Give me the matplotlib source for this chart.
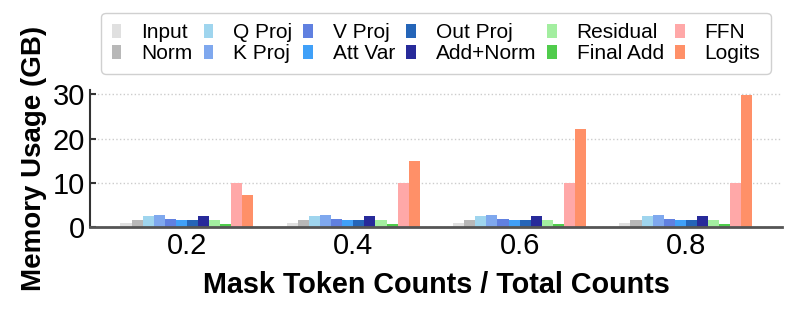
import matplotlib
matplotlib.use("Agg")
import matplotlib.pyplot as plt
import numpy as np

plt.rcParams['font.family'] = ['Liberation Sans', 'DejaVu Sans']

ratios = ["0.2", "0.4", "0.6", "0.8"]
series_names = ["Input", "Norm", "Q Proj", "K Proj", "V Proj", "Att Var",
                "Out Proj", "Add+Norm", "Residual", "Final Add", "FFN", "Logits"]
input_vals = [0.75, 0.75, 0.75, 0.75]
norm_vals = [1.5, 1.5, 1.5, 1.5]
qproj_vals = [2.45, 2.45, 2.45, 2.45]
kproj_vals = [2.6, 2.6, 2.6, 2.6]
vproj_vals = [1.8, 1.8, 1.8, 1.8]
attvar_vals = [1.5, 1.5, 1.5, 1.5]
outproj_vals = [1.5, 1.5, 1.5, 1.5]
addnorm_vals = [2.45, 2.45, 2.45, 2.45]
residual_vals = [1.5, 1.5, 1.5, 1.5]
finaladd_vals = [0.7, 0.7, 0.7, 0.7]
ffn_vals = [10.0, 10.0, 10.0, 10.0]
logits_vals = [7.3, 14.8, 22.2, 29.8]

all_vals = [input_vals, norm_vals, qproj_vals, kproj_vals, vproj_vals, attvar_vals,
            outproj_vals, addnorm_vals, residual_vals, finaladd_vals, ffn_vals, logits_vals]
colors = ["#e0e0e0", "#b8b8b8", "#9fd5ee", "#7fa8ee", "#6080e0", "#40a0f8",
          "#2565b8", "#272a9a", "#a3eea0", "#50cc4c", "#ffa8a8", "#ff9068"]

fig = plt.figure(figsize=(7.93, 3.10), dpi=100)
ax = fig.add_axes([0.1135, 0.2687, 0.8725, 0.441])

x = np.arange(len(ratios))
n = len(series_names)
w = 0.8 / n
for i, (name, vals, c) in enumerate(zip(series_names, all_vals, colors)):
    ax.bar(x + (i - (n - 1) / 2) * w, vals, width=w, color=c, label=name, zorder=2)

ax.set_xlim(-0.583, 3.577)
ax.set_ylim(0, 31)
ax.set_yticks([0, 10, 20, 30])
ax.set_xticks(x)
ax.set_xticklabels(ratios)
ax.tick_params(axis='both', direction='in', length=4.5, width=1.5, colors='#333333',
               labelsize=21, labelcolor='black')
ax.yaxis.grid(True, linestyle=':', color='#cccccc', linewidth=1, zorder=0)
ax.set_axisbelow(True)
for s in ['top', 'right']:
    ax.spines[s].set_visible(False)
ax.spines['left'].set_color('#333333')
ax.spines['left'].set_linewidth(1.5)
ax.spines['bottom'].set_color('#555555')
ax.spines['bottom'].set_linewidth(2)

ax.set_xlabel("Mask Token Counts / Total Counts", fontsize=20.7, fontweight='bold', labelpad=8)
ax.set_ylabel("Memory Usage (GB)", fontsize=20, fontweight='bold', labelpad=4)

leg = ax.legend(loc='lower center', bbox_to_anchor=(436 / 793, 1 - 84 / 310),
                bbox_transform=fig.transFigure, ncol=6, fontsize=15, frameon=True,
                handlelength=0.45, handleheight=0.65, handletextpad=0.95,
                columnspacing=0.55, labelspacing=0.1, borderpad=0.5, framealpha=1.0)
leg.get_frame().set_edgecolor('#d0d0d0')
leg.get_frame().set_linewidth(1.0)

fig.savefig("out.png", dpi=100)
